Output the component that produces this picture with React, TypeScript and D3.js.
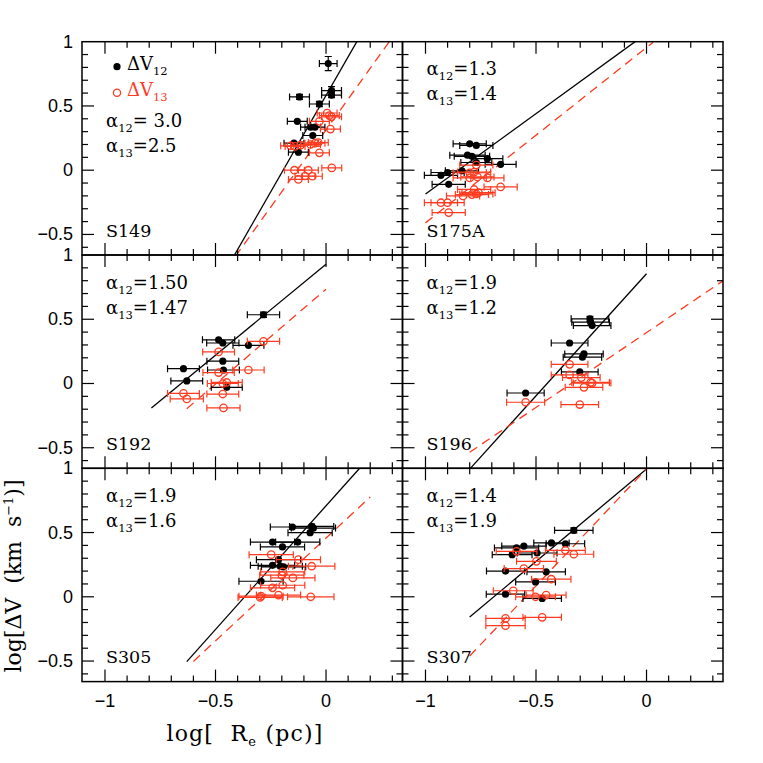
import React from "react";
import * as d3 from "d3";

// ---- data: [logRe, logDV, xErr, yErr] ----
const panelNames = ["S149", "S175A", "S192", "S196", "S305", "S307"];
const alpha12 = ["= 3.0", "=1.3", "=1.50", "=1.9", "=1.9", "=1.4"];
const alpha13 = ["=2.5", "=1.4", "=1.47", "=1.2", "=1.6", "=1.9"];

const s149Black = [
  [0.01, 0.83, 0.04, 0.055], [-0.12, 0.57, 0.045, 0.02], [0.025, 0.62, 0.045, 0.03],
  [0.025, 0.585, 0.045, 0.02], [-0.03, 0.515, 0.045, 0.02], [-0.13, 0.38, 0.045, 0],
  [-0.07, 0.335, 0.045, 0], [-0.05, 0.335, 0.045, 0], [-0.06, 0.27, 0.045, 0],
  [-0.145, 0.21, 0.045, 0], [-0.125, 0.14, 0.045, 0],
];
const s149Red = [
  [0.005, 0.445, 0.045], [0.015, 0.425, 0.045], [0.025, 0.415, 0.045], [-0.03, 0.38, 0.045],
  [0.02, 0.32, 0.045], [-0.05, 0.21, 0.045], [-0.035, 0.215, 0.045], [-0.07, 0.2, 0.045],
  [-0.16, 0.19, 0.045], [-0.14, 0.185, 0.045], [-0.115, 0.195, 0.045], [-0.03, 0.135, 0.045],
  [-0.143, 0.0, 0.045], [-0.08, 0.0, 0.045], [0.026, 0.018, 0.045], [-0.095, -0.045, 0.045],
  [-0.062, -0.047, 0.045], [-0.125, -0.072, 0.045],
];
const s175Black = [
  [-0.8, 0.205, 0.075], [-0.77, 0.193, 0.075], [-0.81, 0.117, 0.08], [-0.79, 0.108, 0.08],
  [-0.72, 0.09, 0.07], [-0.77, 0.06, 0.07], [-0.66, 0.046, 0.07], [-0.93, -0.04, 0.075],
  [-0.9, -0.018, 0.075], [-0.835, -0.005, 0.075], [-0.895, -0.11, 0.075],
];
const s175Red = [
  [-0.77, 0.04, 0.075], [-0.8, -0.02, 0.075], [-0.78, -0.015, 0.075], [-0.8, -0.06, 0.075],
  [-0.765, -0.052, 0.075], [-0.72, -0.06, 0.075], [-0.66, -0.13, 0.075], [-0.78, -0.15, 0.075],
  [-0.76, -0.175, 0.075], [-0.79, -0.19, 0.075], [-0.83, -0.2, 0.075], [-0.77, -0.185, 0.075],
  [-0.93, -0.253, 0.075], [-0.9, -0.253, 0.075], [-0.895, -0.33, 0.075],
];
const s192Black = [
  [-0.283, 0.535, 0.073, 0.02], [-0.486, 0.34, 0.073], [-0.467, 0.315, 0.073], [-0.351, 0.297, 0.07],
  [-0.467, 0.174, 0.072], [-0.464, 0.105, 0.072], [-0.645, 0.115, 0.072], [-0.63, 0.02, 0.072],
  [-0.449, -0.03, 0.07],
];
const s192Red = [
  [-0.283, 0.328, 0.073], [-0.486, 0.246, 0.072], [-0.351, 0.105, 0.071], [-0.486, 0.085, 0.071],
  [-0.467, 0.0, 0.07], [-0.449, 0.008, 0.07], [-0.645, -0.077, 0.072], [-0.63, -0.12, 0.075],
  [-0.467, -0.082, 0.072], [-0.464, -0.19, 0.075],
];
const s196Black = [
  [-0.256, 0.503, 0.085, 0.02], [-0.253, 0.477, 0.085], [-0.246, 0.451, 0.085], [-0.348, 0.315, 0.083],
  [-0.283, 0.23, 0.087], [-0.29, 0.205, 0.087], [-0.302, 0.09, 0.083], [-0.547, -0.074, 0.084],
];
const s196Red = [
  [-0.348, 0.149, 0.083], [-0.348, 0.067, 0.083], [-0.295, 0.046, 0.085], [-0.253, 0.008, 0.085],
  [-0.246, 0.003, 0.085], [-0.283, -0.03, 0.085], [-0.547, -0.146, 0.086], [-0.302, -0.164, 0.085],
];
const s305Black = [
  [-0.152, 0.543, 0.1], [-0.065, 0.548, 0.1], [-0.057, 0.535, 0.1], [-0.072, 0.499, 0.1],
  [-0.242, 0.426, 0.1], [-0.128, 0.426, 0.1], [-0.197, 0.388, 0.1], [-0.215, 0.289, 0.1],
  [-0.242, 0.245, 0.1], [-0.207, 0.238, 0.1], [-0.192, 0.233, 0.1], [-0.294, 0.121, 0.1],
];
const s305Red = [
  [-0.248, 0.328, 0.1], [-0.125, 0.289, 0.1], [-0.065, 0.238, 0.105], [-0.196, 0.194, 0.1],
  [-0.2, 0.168, 0.1], [-0.15, 0.147, 0.1], [-0.242, 0.07, 0.1], [-0.196, 0.09, 0.1],
  [-0.294, 0.005, 0.1], [-0.298, -0.005, 0.1], [-0.215, 0.013, 0.1], [-0.069, 0.0, 0.105],
];
const s307Black = [
  [-0.329, 0.517, 0.087, 0.02], [-0.43, 0.419, 0.08], [-0.367, 0.413, 0.087], [-0.555, 0.395, 0.1],
  [-0.588, 0.38, 0.1], [-0.608, 0.328, 0.09], [-0.495, 0.341, 0.09], [-0.638, 0.2, 0.086],
  [-0.454, 0.194, 0.087], [-0.502, 0.116, 0.09], [-0.638, 0.02, 0.087], [-0.472, -0.013, 0.087],
];
const s307Red = [
  [-0.367, 0.362, 0.09], [-0.329, 0.331, 0.09], [-0.588, 0.354, 0.092], [-0.498, 0.276, 0.09],
  [-0.555, 0.22, 0.089], [-0.431, 0.137, 0.089], [-0.603, 0.047, 0.09], [-0.502, 0.0, 0.09],
  [-0.454, 0.013, 0.09], [-0.472, -0.16, 0.087], [-0.638, -0.168, 0.089], [-0.638, -0.225, 0.089],
];

// fits: [slope, intercept, xmin, xmax]
const fit12 = [
  [3.0, 0.582, -0.45, 0.2], [1.25, 1.065, -1.0, -0.05], [1.415, 0.928, -0.79, 0.0],
  [1.9, 0.854, -0.8, 0.0], [1.924, 0.708, -0.63, 0.15], [1.44, 0.995, -0.8, 0.0],
];
const fit13 = [
  [2.4, 0.313, -0.45, 0.35], [1.365, 0.955, -1.0, 0.03], [1.477, 0.734, -0.63, 0.0],
  [1.164, 0.396, -0.8, 0.35], [1.6, 0.457, -0.6, 0.2], [1.82, 0.995, -0.8, 0.0],
];

const blackSets = [s149Black, s175Black, s192Black, s196Black, s305Black, s307Black];
const redSets = [s149Red, s175Red, s192Red, s196Red, s305Red, s307Red];

const xMajor = [-1, -0.5, 0];
const xMajorLabels = ["\u22121", "\u22120.5", "0"];
const yMajor = [-0.5, 0, 0.5, 1];
const yMajorLabels = ["\u22120.5", "0", "0.5", "1"];

const RED = "#ff3a1f";
const LEFT = 82;
const TOP = 41.7;
const PW = 320.5;
const PH = 213.3;
const SERIF = "'DejaVu Serif', serif";
const SANS = "'Liberation Sans', Arial, sans-serif";

function Panel({ idx }: { idx: number }) {
  const col = idx % 2;
  const row = Math.floor(idx / 2);
  const x0 = LEFT + col * PW;
  const y0 = TOP + row * PH;
  const x = d3.scaleLinear().domain([-1.104, 0.346]).range([x0, x0 + PW]);
  const y = d3.scaleLinear().domain([-0.66, 1.0]).range([y0 + PH, y0]);
  const clipId = `clip${idx}`;
  const alphaOff = idx === 0 ? 85 : 33.5;

  const xTicks = d3.range(-11, 4).map((v) => v / 10);
  const yTicks = d3.range(-6, 10).map((v) => v / 10);
  const isMajor = (v: number) => Math.abs(v * 2 - Math.round(v * 2)) < 1e-6;

  const fitPath = (f: number[]) => {
    const [m, b, lo, hi] = f;
    const g = d3.line<[number, number]>().x((d) => x(d[0])).y((d) => y(d[1]));
    return g([[lo, m * lo + b], [hi, m * hi + b]]) || "";
  };

  const ticks: JSX.Element[] = [];
  xTicks.forEach((v, i) => {
    const px = x(v);
    if (px < x0 + 1 || px > x0 + PW - 1) return;
    const L = isMajor(v) ? 12 : 6;
    ticks.push(<line key={`xb${i}`} x1={px} x2={px} y1={y0 + PH} y2={y0 + PH - L} />);
    ticks.push(<line key={`xt${i}`} x1={px} x2={px} y1={y0} y2={y0 + L} />);
  });
  yTicks.forEach((v, i) => {
    const py = y(v);
    if (py < y0 + 1 || py > y0 + PH - 1) return;
    const L = isMajor(v) ? 12 : 6;
    ticks.push(<line key={`yl${i}`} x1={x0} x2={x0 + L} y1={py} y2={py} />);
    ticks.push(<line key={`yr${i}`} x1={x0 + PW} x2={x0 + PW - L} y1={py} y2={py} />);
  });

  const errBars = (data: number[][], color: string, kp: string) =>
    data.map((d, i) => {
      const [dx, dy, ex, ey] = d;
      const cy = y(dy);
      const xl = x(dx - ex), xr = x(dx + ex);
      return (
        <g key={`${kp}${i}`} stroke={color} strokeWidth={1.2}>
          <line x1={xl} x2={xr} y1={cy} y2={cy} />
          <line x1={xl} x2={xl} y1={cy - 3.5} y2={cy + 3.5} />
          <line x1={xr} x2={xr} y1={cy - 3.5} y2={cy + 3.5} />
          {ey ? (
            <>
              <line x1={x(dx)} x2={x(dx)} y1={y(dy - ey)} y2={y(dy + ey)} />
              <line x1={x(dx) - 3.5} x2={x(dx) + 3.5} y1={y(dy + ey)} y2={y(dy + ey)} />
              <line x1={x(dx) - 3.5} x2={x(dx) + 3.5} y1={y(dy - ey)} y2={y(dy - ey)} />
            </>
          ) : null}
        </g>
      );
    });

  return (
    <g>
      <defs>
        <clipPath id={clipId}>
          <rect x={x0} y={y0} width={PW} height={PH} />
        </clipPath>
      </defs>
      <g clipPath={`url(#${clipId})`}>
        <path d={fitPath(fit12[idx])} stroke="#000" strokeWidth={1.3} fill="none" />
        <path d={fitPath(fit13[idx])} stroke={RED} strokeWidth={1.3} fill="none" strokeDasharray="9,6" />
        {errBars(blackSets[idx], "#000", "be")}
        {blackSets[idx].map((d, i) => (
          <circle key={`bc${i}`} cx={x(d[0])} cy={y(d[1])} r={3.6} fill="#000" />
        ))}
        {errBars(redSets[idx], RED, "re")}
        {redSets[idx].map((d, i) => (
          <circle key={`rc${i}`} cx={x(d[0])} cy={y(d[1])} r={3.7} fill="none" stroke={RED} strokeWidth={1.3} />
        ))}
      </g>
      <g stroke="#000" strokeWidth={1.2}>{ticks}</g>
      <rect x={x0} y={y0} width={PW} height={PH} fill="none" stroke="#000" strokeWidth={1.5} />

      {/* alpha labels */}
      <text x={x0 + 24} y={y0 + alphaOff} fontFamily={SERIF} fontSize={18} fill="#000">
        α<tspan fontSize={11.5} dy={5}>12</tspan>
        <tspan dy={-5}>{alpha12[idx]}</tspan>
      </text>
      <text x={x0 + 24} y={y0 + alphaOff + 25} fontFamily={SERIF} fontSize={18} fill="#000">
        α<tspan fontSize={11.5} dy={5}>13</tspan>
        <tspan dy={-5}>{alpha13[idx]}</tspan>
      </text>
      <text x={x0 + 24} y={y0 + PH - 18.5} fontFamily={SERIF} fontSize={17.5} fill="#000">
        {panelNames[idx]}
      </text>

      {/* tick labels */}
      {col === 0 &&
        yMajor.map((v, i) => (
          <text key={`yl${i}`} x={x0 - 9} y={y(v) + 6} textAnchor="end" fontFamily={SANS} fontSize={18} fill="#000">
            {yMajorLabels[i]}
          </text>
        ))}
      {row === 2 &&
        xMajor.map((v, i) => (
          <text key={`xl${i}`} x={x(v)} y={y0 + PH + 25} textAnchor="middle" fontFamily={SANS} fontSize={18} fill="#000">
            {xMajorLabels[i]}
          </text>
        ))}
    </g>
  );
}

export default function App() {
  const idxs = d3.range(6);
  const lx = LEFT + 35;
  return (
    <div style={{ position: "absolute", left: 0, top: 0 }}>
      <svg width={763} height={763} style={{ display: "block", background: "#fff" }}>
        {idxs.map((i) => (
          <Panel key={i} idx={i} />
        ))}
        {/* legend */}
        <circle cx={lx} cy={TOP + 25} r={3.6} fill="#000" />
        <text x={lx + 10} y={TOP + 28} fontFamily={SERIF} fontSize={18} fill="#000">
          ΔV<tspan fontSize={11.5} dy={5}>12</tspan>
        </text>
        <circle cx={lx} cy={TOP + 51} r={3.6} fill="none" stroke={RED} strokeWidth={1.3} />
        <text x={lx + 10} y={TOP + 54} fontFamily={SERIF} fontSize={18} fill={RED}>
          ΔV<tspan fontSize={11.5} dy={5}>13</tspan>
        </text>
        {/* axis titles */}
        <text x={245} y={741} textAnchor="middle" fontFamily={SERIF} fontSize={22} letterSpacing={1.2} fill="#000" xmlSpace="preserve">
          {"log[  R"}<tspan fontSize={13} dy={5}>e</tspan>
          <tspan dy={-5}>{" (pc)]"}</tspan>
        </text>
        <text
          transform="translate(21,576) rotate(-90)"
          textAnchor="middle"
          fontFamily={SERIF}
          fontSize={22}
          fill="#000"
          xmlSpace="preserve"
        >
          {"log[ΔV  (km  s"}<tspan fontSize={13} dy={-8}>−1</tspan>
          <tspan dy={8}>)]</tspan>
        </text>
      </svg>
    </div>
  );
}
